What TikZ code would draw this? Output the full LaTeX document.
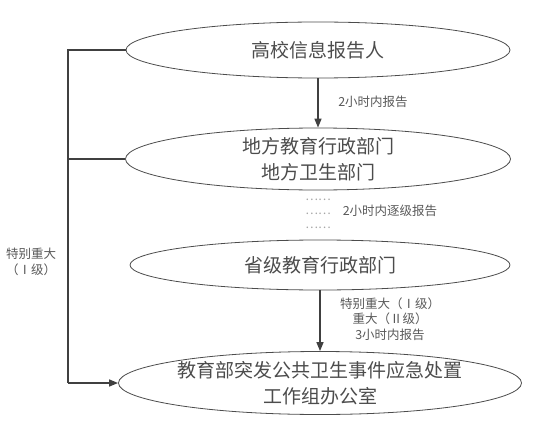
\documentclass[tikz,border=0pt]{standalone}
\usepackage{fontspec}
\setmainfont{Noto Sans CJK SC}
\usetikzlibrary{shapes.geometric,arrows.meta}
\begin{document}
\begin{tikzpicture}[x=1pt,y=-1pt,
  oval/.style={ellipse,draw=black!70,line width=0.8pt,inner sep=0pt,text=black!70,font=\fontsize{19}{26}\selectfont,align=center},
  conn/.style={draw=black!75,line width=1.5pt},
  arr/.style={conn,-{Triangle[length=9pt,width=7pt]}},
  lbl/.style={text=black!65,font=\fontsize{12.5}{15.5}\selectfont,align=center,inner sep=0pt},
  dotsty/.style={text=black!35,font=\fontsize{12}{12}\selectfont,inner sep=0pt}]
\useasboundingbox (0,0) rectangle (535,425);
\node[oval,minimum width=384pt,minimum height=56pt] (e1) at (318,50) {高校信息报告人};
\node[oval,minimum width=385pt,minimum height=62pt] (e2) at (318,159) {地方教育行政部门\\地方卫生部门};
\node[oval,minimum width=380pt,minimum height=50pt] (e3) at (320,265) {省级教育行政部门};
\node[oval,minimum width=380pt,minimum height=63pt] (e4) at (320,383) {教育部突发公共卫生事件应急处置\\工作组办公室};
\coordinate (c1) at (68,50);
\coordinate (c2) at (68,159);
\coordinate (c3) at (68,383);
\draw[conn] (e1.west) -- (c1) -- (c3);
\draw[conn] (e2.west) -- (c2);
\draw[arr] (c3) -- (e4.west);
\draw[arr] (e1.south) -- (e2.north);
\draw[arr] (e3.south) -- (e4.north);
\node[lbl] (l1) at (373,102) {2小时内报告};
\node[lbl] (l2) at (390,211) {2小时内逐级报告};
\node[dotsty] (d1) at (318,200) {……};
\node[dotsty] (d2) at (318,214) {……};
\node[dotsty] (d3) at (318,228) {……};
\node[lbl] (l3) at (31,262) {特别重大\\（Ⅰ级）};
\node[lbl] (l4) at (390,319) {特别重大（Ⅰ级）\\重大（Ⅱ级）\\3小时内报告};
\end{tikzpicture}
\end{document}
